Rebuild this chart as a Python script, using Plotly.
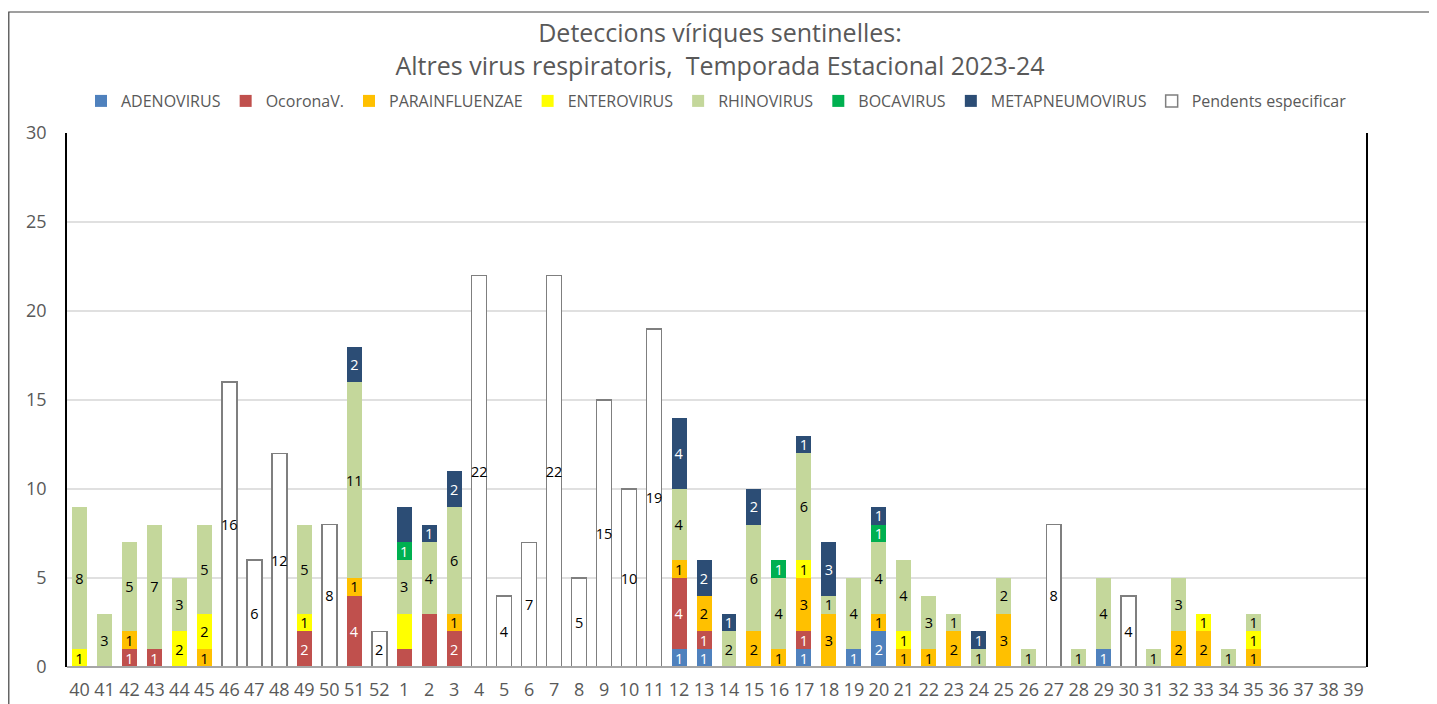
import plotly.graph_objects as go

weeks = [str(w) for w in list(range(40, 53)) + list(range(1, 40))]

# values: weeks 40..52 first, then weeks 1..39 (groups of five weeks)
adenovirus = ([0,0,0,0,0,0,0,0,0,0,0,0,0] +
              [0,0,0,0,0, 0,0,0,0,0, 0,1,1,0,0, 0,1,0,1,2, 0,0,0,0,0, 0,0,0,1,0, 0,0,0,0,0, 0,0,0,0])
ocoronav   = ([0,0,1,1,0,0,0,0,0,2,0,4,0] +
              [1,3,2,0,0, 0,0,0,0,0, 0,4,1,0,0, 0,1,0,0,0, 0,0,0,0,0, 0,0,0,0,0, 0,0,0,0,0, 0,0,0,0])
parainfl   = ([0,0,1,0,0,1,0,0,0,0,0,1,0] +
              [0,0,1,0,0, 0,0,0,0,0, 0,1,2,0,2, 1,3,3,0,1, 1,1,2,0,3, 0,0,0,0,0, 0,2,2,0,1, 0,0,0,0])
enterovirus= ([1,0,0,0,2,2,0,0,0,1,0,0,0] +
              [2,0,0,0,0, 0,0,0,0,0, 0,0,0,0,0, 0,1,0,0,0, 1,0,0,0,0, 0,0,0,0,0, 0,0,1,0,1, 0,0,0,0])
rhinovirus = ([8,3,5,7,3,5,0,0,0,5,0,11,0] +
              [3,4,6,0,0, 0,0,0,0,0, 0,4,0,2,6, 4,6,1,4,4, 4,3,1,1,2, 1,0,1,4,0, 1,3,0,1,1, 0,0,0,0])
bocavirus  = ([0,0,0,0,0,0,0,0,0,0,0,0,0] +
              [1,0,0,0,0, 0,0,0,0,0, 0,0,0,0,0, 1,0,0,0,1, 0,0,0,0,0, 0,0,0,0,0, 0,0,0,0,0, 0,0,0,0])
metapneumo = ([0,0,0,0,0,0,0,0,0,0,0,2,0] +
              [2,1,2,0,0, 0,0,0,0,0, 0,4,2,1,2, 0,1,3,0,1, 0,0,0,1,0, 0,0,0,0,0, 0,0,0,0,0, 0,0,0,0])
pendents   = ([0,0,0,0,0,0,16,6,12,0,8,0,2] +
              [0,0,0,22,4, 7,22,5,15,10, 19,0,0,0,0, 0,0,0,0,0, 0,0,0,0,0, 0,8,0,0,4, 0,0,0,0,0, 0,0,0,0])

# data labels that are not shown in the original chart: (series, week)
hidden_labels = [("OcoronaV.", "1"), ("ENTEROVIRUS", "1"), ("METAPNEUMOVIRUS", "1"), ("OcoronaV.", "2")]

series = [
    ("ADENOVIRUS", adenovirus, "#4F81BD", "white"),
    ("OcoronaV.", ocoronav, "#C0504D", "white"),
    ("PARAINFLUENZAE", parainfl, "#FFC000", "black"),
    ("ENTEROVIRUS", enterovirus, "#FFFF00", "black"),
    ("RHINOVIRUS", rhinovirus, "#C4D79B", "black"),
    ("BOCAVIRUS", bocavirus, "#00B050", "white"),
    ("METAPNEUMOVIRUS", metapneumo, "#2C4D75", "white"),
    ("Pendents especificar", pendents, "#FFFFFF", "black"),
]

# The page body has an 8px margin, so the figure is 8px smaller than the window.
W, H = 1429, 696
ML, MR, MT, MB = 59, 71, 125, 37
PW, PH = W - ML - MR, H - MT - MB

fig = go.Figure()
for name, vals, color, tcolor in series:
    text = []
    for w, v in zip(weeks, vals):
        if v > 0 and (name, w) not in hidden_labels:
            text.append(str(v))
        else:
            text.append("")
    is_pend = name == "Pendents especificar"
    yvals = [v if v > 0 else None for v in vals] if is_pend else vals
    fig.add_trace(go.Bar(
        x=weeks, y=yvals, name=name, text=text,
        marker=dict(color=color, line=dict(color="#7F7F7F" if is_pend else color,
                                           width=1.5 if is_pend else 0)),
        textposition="inside", insidetextanchor="middle", textangle=0,
        constraintext="none",
        textfont=dict(family="Open Sans", size=14.5, color=tcolor),
        hoverinfo="x+y+name",
    ))

fig.update_layout(
    width=W, height=H,
    barmode="stack", bargap=0.4,
    paper_bgcolor="white", plot_bgcolor="white",
    font=dict(family="Open Sans", color="#595959"),
    margin=dict(l=ML, r=MR, t=MT, b=MB, autoexpand=False),
    title=dict(
        text="Deteccions víriques sentinelles:<br>Altres virus respiratoris,  Temporada Estacional 2023-24",
        x=712 / W, xanchor="center", xref="container", y=1 - 34 / H, yanchor="top", yref="container",
        font=dict(family="Open Sans", size=25, color="#595959"),
    ),
    legend=dict(orientation="h", xref="paper", x=0.5, xanchor="center",
                y=(MT + PH - 93) / PH, yanchor="middle",
                font=dict(family="Open Sans", size=16, color="#595959"),
                traceorder="normal", itemwidth=30, tracegroupgap=0),
    showlegend=True,
)
fig.update_yaxes(range=[0, 30], dtick=5, showgrid=True, gridcolor="#E0E0E0", gridwidth=1.5,
                 tickfont=dict(family="Open Sans", size=18, color="#595959"),
                 ticks="", ticklabelstandoff=15, zeroline=False,
                 showline=True, linecolor="black", linewidth=1.5, mirror=True)
fig.update_xaxes(type="category", tickfont=dict(family="Open Sans", size=18, color="#595959"),
                 ticks="", ticklabelstandoff=10, showline=False)
# bottom axis line (grey) drawn along y=0
fig.add_shape(type="line", xref="paper", yref="paper", x0=0, x1=1, y0=0, y1=0,
              line=dict(color="#A6A6A6", width=2), layer="above")
# chart area border
fig.add_shape(type="rect", xref="paper", yref="paper",
              x0=(0.8 - ML) / PW, x1=1.1, y0=-0.2, y1=(MT + PH - 4) / PH,
              line=dict(color="#404040", width=1.2), layer="below")

fig.write_html("out.html")
